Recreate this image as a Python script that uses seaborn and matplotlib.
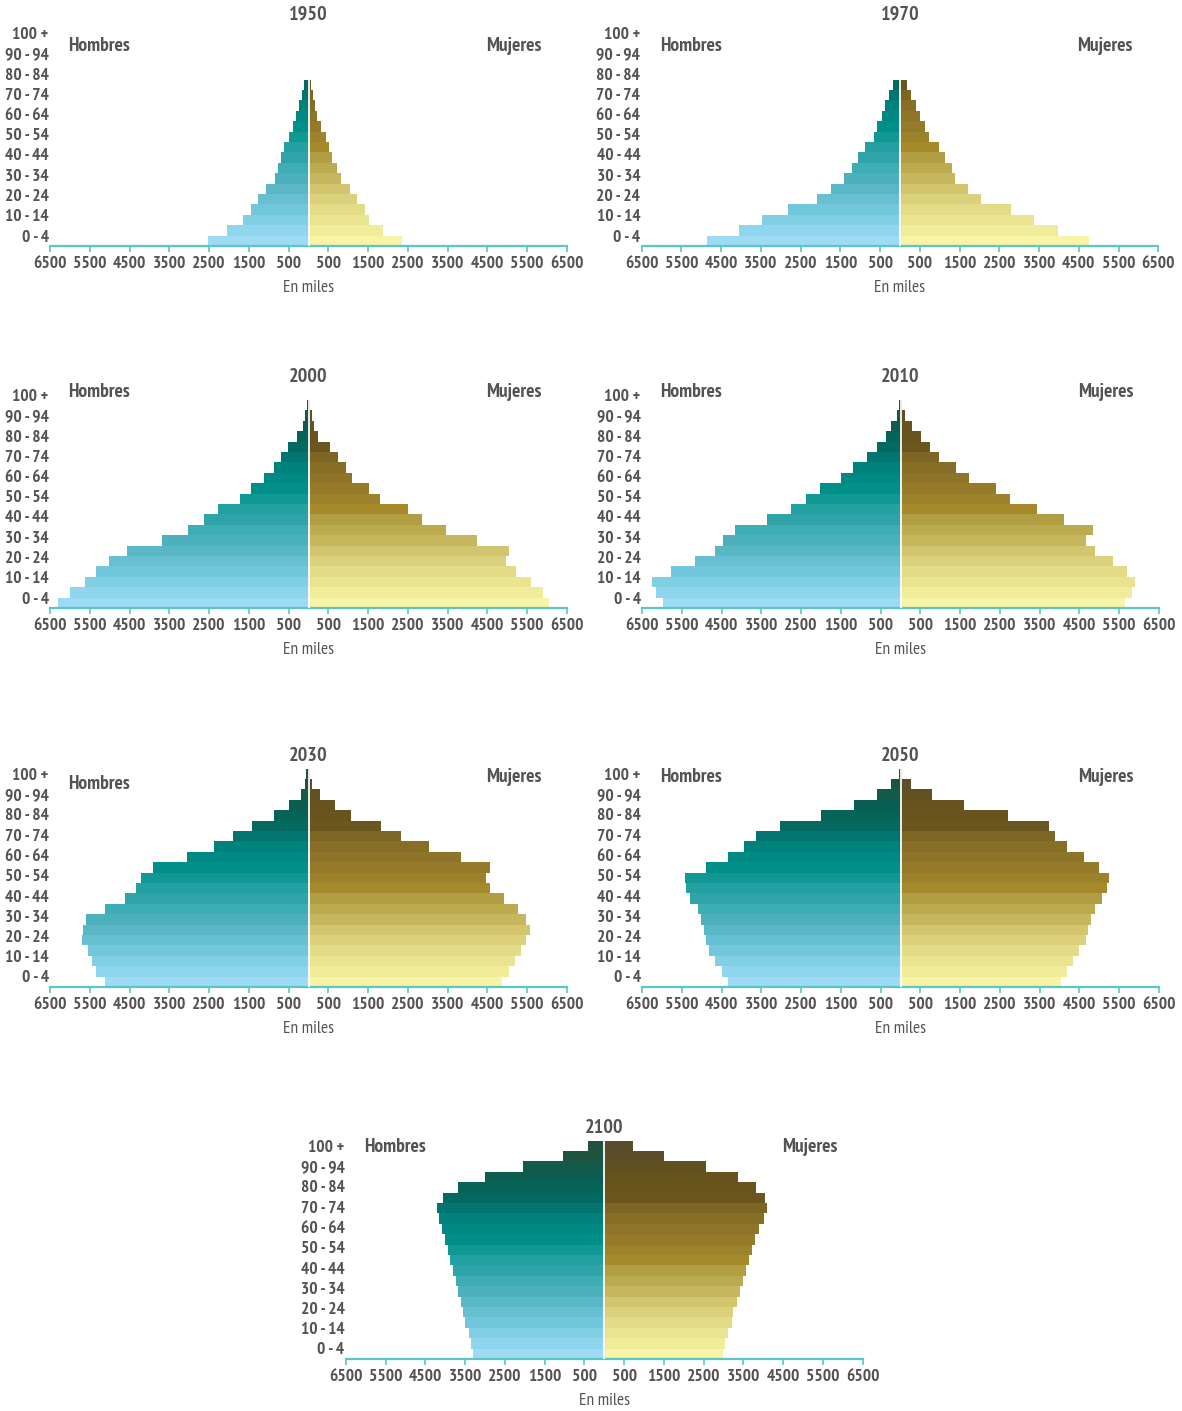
import numpy as np
import pandas as pd
import matplotlib
matplotlib.use("Agg")
import matplotlib.pyplot as plt
import seaborn as sns

# ---------------- data (thousands of people) ----------------
age_labels = ["0 - 4", "5 - 9", "10 - 14", "15 - 19", "20 - 24", "25 - 29", "30 - 34",
              "35 - 39", "40 - 44", "45 - 49", "50 - 54", "55 - 59", "60 - 64", "65 - 69",
              "70 - 74", "75 - 79", "80 - 84", "85 - 89", "90 - 94", "95 - 99", "100 +"]
y_tick_labels = ["0 - 4", "10 - 14", "20 - 24", "30 - 34", "40 - 44", "50 - 54",
                 "60 - 64", "70 - 74", "80 - 84", "90 - 94", "100 +"]
x_tick_values = [-6500, -5500, -4500, -3500, -2500, -1500, -500,
                 500, 1500, 2500, 3500, 4500, 5500, 6500]
x_tick_labels = ["6500", "5500", "4500", "3500", "2500", "1500", "500",
                 "500", "1500", "2500", "3500", "4500", "5500", "6500"]

men_1950 = [2520, 2045, 1645, 1440, 1265, 1060, 835, 760, 685, 610, 480, 380, 305, 230, 155, 105]
women_1950 = [2340, 1885, 1530, 1430, 1230, 1050, 825, 725, 600, 525, 450, 325, 225, 170, 120, 75]

men_1970 = [4865, 4060, 3480, 2825, 2095, 1745, 1415, 1215, 1065, 890, 660, 585, 460, 385, 285, 185]
women_1970 = [4745, 3965, 3365, 2785, 2030, 1700, 1375, 1300, 1125, 975, 720, 620, 495, 395, 270, 170]

men_2000 = [6300, 5995, 5630, 5355, 5030, 4570, 3680, 3020, 2640, 2285, 1720, 1445, 1110, 880,
            680, 505, 300, 145, 100, 50]
women_2000 = [6040, 5900, 5610, 5230, 4960, 5040, 4245, 3460, 2850, 2495, 1805, 1530, 1100, 945,
              745, 540, 230, 130, 100, 50]

men_2010 = [5980, 6160, 6240, 5775, 5175, 4665, 4455, 4175, 3370, 2755, 2370, 2015, 1490, 1200,
            850, 600, 370, 245, 95, 45]
women_2010 = [5655, 5815, 5895, 5710, 5355, 4895, 4665, 4845, 4105, 3425, 2765, 2410, 1720, 1390,
              960, 745, 515, 280, 110, 50]

men_2030 = [5130, 5340, 5435, 5540, 5695, 5665, 5590, 5130, 4620, 4345, 4220, 3915, 3045, 2385,
            1905, 1415, 860, 480, 200, 95, 65]
women_2030 = [4880, 5055, 5185, 5340, 5465, 5570, 5465, 5280, 4930, 4575, 4470, 4575, 3835, 3025,
              2335, 1830, 1060, 660, 280, 95, 40]

men_2050 = [4345, 4500, 4655, 4810, 4905, 4950, 5010, 5105, 5305, 5385, 5415, 4905, 4345, 3935,
            3635, 3025, 2005, 1170, 585, 230, 50]
women_2050 = [4030, 4185, 4340, 4490, 4665, 4720, 4780, 4895, 5075, 5200, 5250, 5000, 4615, 4185,
              3875, 3725, 2695, 1595, 785, 270, 50]

men_2100 = [3305, 3355, 3405, 3505, 3555, 3605, 3680, 3730, 3805, 3885, 3935, 4010, 4085, 4160,
            4210, 4060, 3680, 3000, 2045, 1040, 410]
women_2100 = [2985, 3035, 3110, 3210, 3235, 3340, 3415, 3490, 3565, 3640, 3715, 3790, 3890, 4015,
              4090, 4040, 3815, 3365, 2560, 1500, 720]

men_colors = ["#9ddbf5", "#8fd5ed", "#81cfe4", "#73c7dc", "#66c0d2", "#5ab7c6", "#4cb1bd",
              "#3caeb4", "#30a3a9", "#22a0a2", "#109894", "#009089", "#008983", "#00827c",
              "#037570", "#046960", "#056357", "#0a5d50", "#135a4a", "#1d5440", "#215141"]
women_colors = ["#f7f4a6", "#f1ec9a", "#eae38f", "#e3db86", "#dbd07b", "#d2c56e", "#c6b75e",
                "#bcaa4f", "#b19e42", "#a68a2a", "#9c832b", "#957b29", "#8d7428", "#876e26",
                "#7d6524", "#6b5620", "#6a541e", "#66531e", "#615021", "#5d4e2b", "#5a4b2c"]

# ---------------- layout ----------------
sns.set_theme(style="white")
plt.rcParams['font.family'] = ['PT Sans Narrow', 'Roboto Condensed', 'Fira Sans Condensed',
                               'Archivo Narrow', 'Asap Condensed', 'Encode Sans Condensed',
                               'Barlow Semi Condensed', 'Liberation Sans Narrow', 'DejaVu Sans']

W, H = 1182, 1411
PX_PER_K = 39.75           # pixels per 1000
BAR_PX = 10.4              # pixel height of one age group
AX_H = 21 * BAR_PX
TEXT = "#535353"
TEAL = "#5ac6c6"

# year, men, women, center x px, axis y px, Hombres height, Mujeres height
panels = [
    ("1950", men_1950, women_1950, 308.5, 246, 200, 200),
    ("1970", men_1970, women_1970, 900.0, 246, 200, 200),
    ("2000", men_2000, women_2000, 308.5, 608, 216, 216),
    ("2010", men_2010, women_2010, 900.5, 608, 216, 216),
    ("2030", men_2030, women_2030, 308.5, 987, 203, 210),
    ("2050", men_2050, women_2050, 900.5, 987, 210, 210),
    ("2100", men_2100, women_2100, 604.3, 1359, 212, 212),
]

fig = plt.figure(figsize=(W / 100, H / 100), dpi=100)

men_pal = dict(zip(age_labels, men_colors))
women_pal = dict(zip(age_labels, women_colors))

for year, men, women, cx, ay, h_up, m_up in panels:
    ax = fig.add_axes([(cx - 6.5 * PX_PER_K) / W, (H - ay) / H,
                       13 * PX_PER_K / W, AX_H / H])
    n = len(men)
    df = pd.DataFrame({"pos": np.arange(n), "age": age_labels[:n],
                       "men": -np.array(men, dtype=float),
                       "women": np.array(women, dtype=float)})
    for col, pal in (("men", men_pal), ("women", women_pal)):
        sns.barplot(data=df, x=col, y="pos", hue="age", palette=pal, orient="y",
                    native_scale=True, width=1.0, dodge=False, legend=False,
                    errorbar=None, saturation=1, linewidth=0, ax=ax)
    ax.plot([0, 0], [-0.5, n - 0.5], color="white", lw=1.4, alpha=0.9, zorder=5)

    ax.set_xlim(-6500, 6500)
    ax.set_ylim(-0.5, 20.5)
    ax.set_xlabel("")
    ax.set_ylabel("")
    for s in ("top", "right", "left"):
        ax.spines[s].set_visible(False)
    ax.spines["bottom"].set_color(TEAL)
    ax.spines["bottom"].set_linewidth(1.6)

    ax.set_xticks(x_tick_values, x_tick_labels)
    ax.tick_params(axis="x", length=4, width=1.2, color=TEAL, direction="out",
                   pad=3, labelsize=12.5, labelcolor=TEXT, bottom=True)
    ytick_pos = [(10.5 + 10.125 * i) / BAR_PX - 0.5 for i in range(0, 21, 2)]
    ax.set_yticks(ytick_pos, y_tick_labels)
    ax.tick_params(axis="y", length=0, pad=1, labelsize=12.5, labelcolor=TEXT, left=False)
    for lbl in ax.get_xticklabels() + ax.get_yticklabels():
        lbl.set_fontweight("bold")
    ax.grid(False)

    tr = ax.get_xaxis_transform()
    ax.text(0, 231 / AX_H, year, transform=tr, ha="center", va="center",
            fontsize=14.5, fontweight="bold", color=TEXT)
    ax.text(-240 / PX_PER_K * 1000, h_up / AX_H, "Hombres", transform=tr, ha="left",
            va="center", fontsize=14, fontweight="bold", color=TEXT)
    ax.text(233 / PX_PER_K * 1000, m_up / AX_H, "Mujeres", transform=tr, ha="right",
            va="center", fontsize=14, fontweight="bold", color=TEXT)
    ax.text(0, -42 / AX_H, "En miles", transform=tr, ha="center", va="center",
            fontsize=12.5, color=TEXT)

fig.savefig("out.png", dpi=100)
